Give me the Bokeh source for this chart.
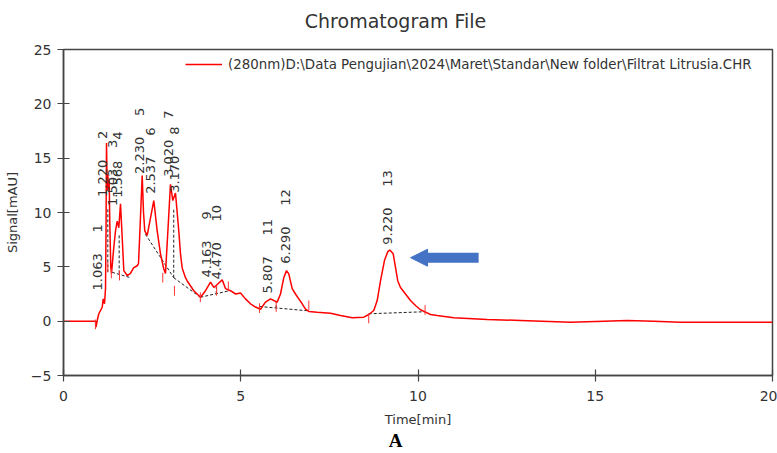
import math
from bokeh.plotting import figure
from bokeh.models import (Range1d, FixedTicker, LinearAxis, Legend, LegendItem, Arrow,
                          NormalHead, ColumnDataSource)
from bokeh.embed import file_html
from bokeh.resources import INLINE
from bokeh.core.properties import value

# ---------------- data ----------------
time_min = [0.0, 0.903, 0.917, 0.951, 0.996, 1.044, 1.092, 1.120, 1.157, 1.185, 1.199,
            1.213, 1.233, 1.250, 1.269, 1.289, 1.306, 1.334, 1.354, 1.419, 1.467, 1.515,
            1.560, 1.608, 1.656, 1.701, 1.797, 1.890, 1.975, 2.079, 2.116, 2.158, 2.220,
            2.257, 2.293, 2.361, 2.454, 2.547, 2.643, 2.736, 2.829, 2.877, 2.948, 3.018,
            3.083, 3.159, 3.252, 3.300, 3.348, 3.441, 3.489, 3.676, 3.865, 4.006, 4.147,
            4.240, 4.344, 4.477, 4.570, 4.711, 4.853, 4.993, 5.134, 5.275, 5.416, 5.557,
            5.698, 5.839, 5.932, 6.028, 6.121, 6.214, 6.291, 6.355, 6.451, 6.544, 6.638,
            6.733, 6.827, 6.920, 7.157, 7.532, 7.814, 8.144, 8.471, 8.612, 8.753, 8.849,
            8.942, 9.055, 9.148, 9.205, 9.300, 9.365, 9.430, 9.506, 9.647, 9.788, 9.929,
            10.071, 10.212, 10.353, 10.542, 11.010, 11.952, 12.891, 14.302, 15.241,
            15.901, 16.652, 17.405, 18.533, 20.0]
signal_mau = [0.0, 0.0, -0.55, 0.06, 0.68, 0.98, 1.28, 2.05, 1.6, 3.0, 8.0,
              16.4, 12.0, 13.5, 12.2, 13.0, 9.0, 5.0, 4.4, 6.8, 8.3, 9.2,
              8.6, 10.8, 7.7, 4.65, 4.2, 4.4, 4.9, 5.1, 5.3, 8.5, 13.4,
              10.0, 8.3, 7.9, 9.5, 11.1, 8.3, 6.2, 4.8, 4.4, 8.5, 12.6,
              11.1, 11.8, 8.3, 6.2, 4.9, 4.0, 3.7, 2.8, 2.2, 2.8, 3.6,
              3.1, 3.4, 3.8, 3.0, 2.8, 2.5, 2.6, 2.05, 1.6, 1.3, 1.1,
              1.75, 2.05, 1.9, 1.75, 2.5, 4.0, 4.65, 4.35, 3.0, 2.5, 2.05,
              1.6, 1.1, 0.9, 0.83, 0.73, 0.52, 0.31, 0.37, 0.61, 0.98, 1.9,
              3.7, 5.6, 6.4, 6.55, 6.2, 4.95, 3.7, 3.1, 2.5, 1.9, 1.44,
              1.05, 0.83, 0.61, 0.52, 0.31, 0.16, 0.06, -0.09, 0.0,
              0.06, 0.0, -0.09, -0.09, -0.09]

peak_numbers = ["1", "2", "3", "4", "5", "6", "7", "8", "9", "10", "11", "12", "13"]
peak_times = ["1.063", "1.220", "1.503", "1.568", "2.230", "2.537", "3.020", "3.170",
              "4.163", "4.470", "5.807", "6.290", "9.220"]
label_x = [0.973, 1.114, 1.382, 1.523, 2.144, 2.454, 2.976, 3.145, 4.034, 4.330,
           5.741, 6.262, 9.140]
label_y = [2.82, 11.43, 10.6, 11.35, 13.55, 11.72, 13.28, 11.81, 4.01, 3.83,
           2.54, 5.29, 7.04]

# integration baselines and drop lines (dashed)
base_x0 = [1.37, 1.57, 1.25, 2.31, 3.11, 3.11, 3.86, 4.31, 5.53, 6.00, 8.61]
base_y0 = [4.50, 4.40, 4.50, 8.00, 4.00, 4.00, 2.20, 2.50, 1.35, 1.20, 0.68]
base_x1 = [1.89, 1.57, 1.25, 3.11, 3.86, 3.11, 4.68, 4.31, 6.91, 6.00, 10.21]
base_y1 = [4.00, 8.00, 10.30, 4.00, 2.20, 10.30, 2.80, 3.20, 0.95, 1.75, 0.87]

# peak start/end event marks (short red ticks)
event_t = [0.90, 1.25, 1.35, 1.58, 2.80, 3.13, 3.86, 4.32, 4.65, 5.53, 6.00, 6.92, 8.61, 10.20]
event_s = [-0.3, 5.0, 4.4, 4.2, 4.0, 2.8, 2.2, 2.8, 3.2, 1.2, 1.3, 1.45, 0.25, 1.03]

arrow_t = [11.71, 9.79]
arrow_s = [5.84, 5.84]

y_ticks = [-5, 0, 5, 10, 15, 20, 25]
x_ticks = [0, 5, 10, 15, 20]

title_text = "Chromatogram File"
caption_text = "A"
heading_at = 9.366          # time position over which heading and caption are centred
legend_label = "(280nm)D:\\Data Pengujian\\2024\\Maret\\Standar\\New folder\\Filtrat Litrusia.CHR"

# ---------------- figure ----------------
FONT = "DejaVu Sans"
TXT = "#333333"
AX = "#444444"

p = figure(width=777, height=453, x_range=Range1d(0, 20), y_range=Range1d(-5, 25),
           output_backend="svg", toolbar_location=None,
           min_border_left=63, min_border_right=5, min_border_top=49, min_border_bottom=78)
p.background_fill_color = "white"
p.border_fill_color = "white"
p.xgrid.visible = False
p.ygrid.visible = False
p.outline_line_color = AX
p.outline_line_width = 1.5

for ax, ticks in ((p.xaxis, x_ticks), (p.yaxis, y_ticks)):
    ax.ticker = FixedTicker(ticks=ticks)
    ax.minor_tick_line_color = None
    ax.major_tick_in = 6
    ax.major_tick_out = 6
    ax.axis_line_color = AX
    ax.axis_line_width = 1.5
    ax.major_tick_line_color = AX
    ax.major_tick_line_width = 1.2
    ax.major_label_text_font = FONT
    ax.major_label_text_font_size = "14px"
    ax.major_label_text_color = TXT
    ax.axis_label_text_font = FONT
    ax.axis_label_text_font_size = "13px"
    ax.axis_label_text_font_style = "normal"
    ax.axis_label_text_color = TXT

p.xaxis.axis_label = "Time[min]"
p.yaxis.axis_label = "Signal[mAU]"
p.xaxis.major_label_standoff = 9
p.yaxis.major_label_standoff = 6
p.xaxis.axis_label_standoff = 8
p.yaxis.axis_label_standoff = 8


def text_axis(txt, font, size, style, color, standoff):
    ax = LinearAxis(ticker=FixedTicker(ticks=[heading_at]),
                    major_label_overrides={heading_at: txt})
    ax.axis_line_color = None
    ax.major_tick_line_color = None
    ax.minor_tick_line_color = None
    ax.major_tick_in = 0
    ax.major_tick_out = 0
    ax.major_label_standoff = standoff
    ax.major_label_text_font = font
    ax.major_label_text_font_size = size
    ax.major_label_text_font_style = style
    ax.major_label_text_color = color
    return ax


# heading above the frame, caption under the x axis
p.add_layout(text_axis(title_text, FONT, "19px", "normal", TXT, 18), "above")
p.add_layout(text_axis(caption_text, "Liberation Serif", "19px", "bold", "black", 0), "below")

# baselines
p.segment(x0=base_x0, y0=base_y0, x1=base_x1, y1=base_y1, line_color="#222222",
          line_width=1, line_dash="3 2")

# trace
trace = p.line(time_min, signal_mau, line_color="#FF0000", line_width=1.5)

# event ticks
ev_lo = [s - 0.45 for s in event_s]
ev_hi = [s + 0.45 for s in event_s]
p.segment(x0=event_t, y0=ev_lo, x1=event_t, y1=ev_hi, line_color="#FF3333", line_width=1)

# peak labels
src = ColumnDataSource(dict(x=label_x, y=label_y, t=peak_times, n=peak_numbers))
p.text(x="x", y="y", text="t", source=src, angle=math.pi / 2, text_align="left",
       text_baseline="middle", text_font=value(FONT), text_font_size="13px",
       text_color=TXT)
p.text(x="x", y="y", text="n", source=src, angle=math.pi / 2, text_align="left",
       text_baseline="middle", text_font=value(FONT), text_font_size="13px",
       text_color=TXT, y_offset=-58)

# arrow
p.add_layout(Arrow(end=NormalHead(size=17, fill_color="#4472C4", line_color="#4472C4"),
                   x_start=arrow_t[0], y_start=arrow_s[0], x_end=arrow_t[1], y_end=arrow_s[1],
                   line_color="#4472C4", line_width=10))

legend = Legend(items=[LegendItem(label=legend_label, renderers=[trace])],
                location=(122, 303), padding=5, border_line_color=None,
                background_fill_alpha=0, glyph_width=37, glyph_height=16, label_height=16,
                label_standoff=6, label_text_font=FONT, label_text_font_size="13.4px",
                label_text_color=TXT)
p.add_layout(legend)

open("out.html", "w").write(file_html(p, INLINE))
